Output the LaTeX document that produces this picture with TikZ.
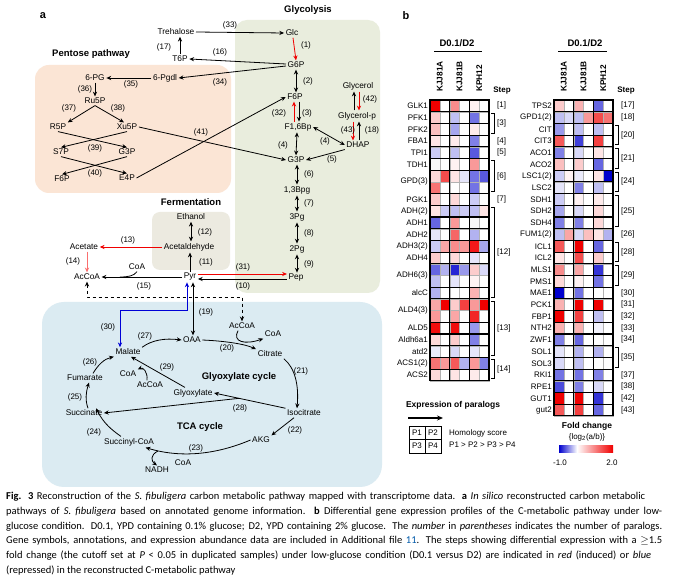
\documentclass[tikz,border=0pt]{standalone}
\usepackage{fontspec}
\setmainfont{Liberation Sans}
\newfontfamily\capfont{Carlito}
\usetikzlibrary{arrows.meta,calc}
\definecolor{glyc}{RGB}{233,237,221}
\definecolor{pent}{RGB}{251,229,213}
\definecolor{ferm}{RGB}{236,234,224}
\definecolor{tcac}{RGB}{219,235,242}
\definecolor{hr}{RGB}{240,0,0}
\definecolor{hb}{RGB}{0,0,205}
\definecolor{ared}{RGB}{240,0,0}
\definecolor{lred}{RGB}{250,110,110}
\definecolor{ablue}{RGB}{0,0,215}
\definecolor{linkblue}{RGB}{0,90,170}
\tikzset{
 met/.style={font=\fontsize{8.3}{9}\selectfont, inner sep=1.5pt},
 num/.style={font=\fontsize{8}{9}\selectfont, inner sep=0pt},
 ttl/.style={font=\fontsize{9.5}{11}\selectfont\bfseries, inner sep=0pt},
 ar/.style={-{Stealth[length=4.8pt,width=4.2pt]}, line width=0.8pt},
 dar/.style={{Stealth[length=4.8pt,width=4.2pt]}-{Stealth[length=4.8pt,width=4.2pt]}, line width=0.8pt},
 hml/.style={font=\fontsize{8}{9}\selectfont, inner sep=0pt, anchor=east},
 stp/.style={font=\fontsize{8}{9}\selectfont, inner sep=0pt, anchor=west},
 colh/.style={font=\fontsize{8.3}{9}\selectfont\bfseries, inner sep=0pt, rotate=90, anchor=west},
 capl/.style={font=\capfont\fontsize{10.5}{12}\selectfont, inner sep=0pt, anchor=west},
}
\newcommand\hmrow[8]{%
 \pgfmathsetmacro\hya{100+#2*11.7}\pgfmathsetmacro\hyb{\hya+11.7}%
 \foreach \c [count=\i from 0] in {#3,#4,#5,#6,#7,#8}{%
   \pgfmathsetmacro\hxa{#1+\i*9.8333}\pgfmathsetmacro\hxb{\hxa+9.8333}%
   \filldraw[fill=\c, draw=black!30, line width=0.3pt] (\hxa,\hya) rectangle (\hxb,\hyb);}}
\newcommand\hmblk[4]{%
 \pgfmathsetmacro\hya{100+#2*11.7}\pgfmathsetmacro\hyb{100+(#2+#3)*11.7}\pgfmathsetmacro\hym{(\hya+\hyb)/2}%
 \foreach \k in {0,1,2}{\pgfmathsetmacro\hxa{#1+\k*19.6667}\pgfmathsetmacro\hxb{\hxa+19.6667}%
   \draw[line width=1.1pt] (\hxa,\hya) rectangle (\hxb,\hyb);}%
 \node[hml] at (#1-2,\hym) {#4};}
\newcommand\hmstep[5]{%
 \pgfmathsetmacro\hya{100+#2*11.7}\pgfmathsetmacro\hyb{100+(#2+#3)*11.7}\pgfmathsetmacro\hym{(\hya+\hyb)/2}%
 \ifnum#5=1 \draw[line width=0.7pt] (#1+61,\hya+2) -- (#1+64,\hya+2) -- (#1+64,\hyb-2) -- (#1+61,\hyb-2);\fi
 \node[stp] at (#1+67,\hym) {#4};}
\begin{document}
\begin{tikzpicture}[x=1pt,y=-1pt]
\useasboundingbox (0,0) rectangle (673,577);
\fill[white] (0,0) rectangle (673,577);
% ---------- boxes
\fill[glyc, rounded corners=12pt] (235,20) rectangle (380,293);
\fill[pent, rounded corners=14pt] (35,65) rectangle (231,193);
\fill[ferm, rounded corners=8pt] (152,212) rectangle (230,270);
\fill[tcac, rounded corners=22pt] (42,302) rectangle (382,487);
% ---------- titles
\node[font=\fontsize{11}{12}\selectfont\bfseries] (la) at (43,16) {a};
\node[font=\fontsize{11}{12}\selectfont\bfseries] (lb) at (406,16) {b};
\node[ttl] (tglyc) at (308,10) {Glycolysis};
\node[ttl] (tpent) at (91,54) {Pentose pathway};
\node[ttl] (tferm) at (191,202) {Fermentation};
\node[ttl] (tglx) at (239,377) {Glyoxylate cycle};
\node[ttl] (ttca) at (200,427) {TCA cycle};
% ---------- metabolites
\node[met] (treh) at (176,32) {Trehalose};
\node[met] (glc) at (292,33) {Glc};
\node[met] (t6p) at (180,59) {T6P};
\node[met] (g6p) at (296,65) {G6P};
\node[met] (pgdl) at (165,78) {6-Pgdl};
\node[met] (pg) at (95,78) {6-PG};
\node[met] (ru5p) at (95,101) {Ru5P};
\node[met] (r5p) at (58,127) {R5P};
\node[met] (xu5p) at (127,127) {Xu5P};
\node[met] (s7p) at (61,152) {S7P};
\node[met] (g3pp) at (127,152) {G3P};
\node[met] (f6pp) at (62,179) {F6P};
\node[met] (e4p) at (127,178) {E4P};
\node[met] (f6p) at (295,97) {F6P};
\node[met] (f16) at (298,127) {F1,6Bp};
\node[met] (g3p) at (296,160) {G3P};
\node[met] (glyl) at (358,86) {Glycerol};
\node[met] (glyp) at (357,116) {Glycerol-p};
\node[met] (dhap) at (358,145) {DHAP};
\node[met] (bpg) at (297,190) {1,3Bpg};
\node[met] (pg3) at (297,217) {3Pg};
\node[met] (pg2) at (297,249) {2Pg};
\node[met] (pep) at (296,278) {Pep};
\node[met] (etoh) at (191,217) {Ethanol};
\node[met] (acald) at (189,247) {Acetaldehyde};
\node[met] (acet) at (84,247) {Acetate};
\node[met] (accoa) at (87,277) {AcCoA};
\node[met] (pyr) at (190,277) {Pyr};
\node[met] (coa1) at (137,267) {CoA};
\node[met] (oaa) at (192,340) {OAA};
\node[met] (mal) at (128,352) {Malate};
\node[met] (fum) at (85,378) {Fumarate};
\node[met] (suc) at (84,413) {Succinate};
\node[met] (succoa) at (129,442) {Succinyl-CoA};
\node[met] (akg) at (261,440) {AKG};
\node[met] (icit) at (304,413) {Isocitrate};
\node[met] (cit) at (270,354) {Citrate};
\node[met] (accoa2) at (242,326) {AcCoA};
\node[met] (coa2) at (273,334) {CoA};
\node[met] (glx) at (193,393) {Glyoxylate};
\node[met] (coa3) at (128,374) {CoA};
\node[met] (accoa3) at (150,385) {AcCoA};
\node[met] (coa4) at (183,463) {CoA};
\node[met] (nadh) at (157,470) {NADH};
% ---------- connectors: trehalose / pentose
\draw[ar] (treh.east) -- (glc.west);
\draw[ar] (t6p.north) -- (t6p.north |- treh.south);
\draw[ar] ([yshift=1pt]g6p.west) -- (t6p.east);
\draw[ar] ([yshift=-1pt]g6p.west) -- (pgdl.east);
\draw[ar] (pgdl.west) -- (pg.east);
\draw[ar] (pg.south) -- (pg.south |- ru5p.north);
\draw[ar] (ru5p.south) -- (r5p.north east);
\draw[ar] (ru5p.south) -- ([xshift=-3pt]xu5p.north);
\draw[ar] (r5p.south) -- (g3pp.north);
\draw[ar] (xu5p.south) -- (s7p.north);
\draw[ar] (s7p.south) -- (e4p.north);
\draw[ar] (g3pp.south) -- (f6pp.north);
\draw[ar] (xu5p.east) -- (g3p.west);
\draw[ar] (e4p.east) -- (f6p.west);
% ---------- glycolysis
\draw[ar, ared] ([xshift=1pt]glc.south) -- (g6p.north);
\draw[dar] (g6p.south) -- (g6p.south |- f6p.north);
\draw[ar, ared] ([xshift=-4pt]f16.north) -- ([xshift=-1pt]f6p.south);
\draw[ar] ([xshift=4pt]f6p.south) -- ([xshift=1pt]f16.north);
\draw[dar] ([xshift=-1pt]f16.south) -- (g3p.north);
\draw[dar] (f16.east) -- (dhap.west);
\draw[ar] (dhap.south west) -- (g3p.east);
\draw[ar] ([xshift=-3pt]glyp.north) -- ([xshift=-4pt]glyl.south);
\draw[ar, ared] ([xshift=1pt]glyl.south) -- ([xshift=2pt]glyp.north);
\draw[ar, ared] ([xshift=-4pt]glyp.south) -- ([xshift=-5pt]dhap.north);
\draw[ar] ([xshift=1pt]dhap.north) -- ([xshift=2pt]glyp.south);
\draw[dar] ([xshift=1pt]g3p.south) -- (bpg.north);
\draw[dar] (bpg.south) -- (pg3.north);
\draw[dar] (pg3.south) -- (pg2.north);
\draw[dar] (pg2.south) -- ([xshift=1pt]pep.north);
\draw[ar, ared] ([yshift=3pt]pyr.east) -- ([yshift=4pt]pep.west);
\draw[ar] ([yshift=-1pt]pep.west) -- ([yshift=-2pt]pyr.east);
% ---------- fermentation
\draw[dar] (etoh.south) -- (etoh.south |- acald.north);
\draw[ar] (pyr.north) -- (pyr.north |- acald.south);
\draw[ar, ared] (acald.west) -- (acet.east);
\draw[ar, lred] ([xshift=3pt]acet.south) -- ([xshift=3pt]acet.south |- accoa.north);
\draw[ar] (pyr.west) -- (accoa.east);
\draw[line width=0.8pt] (coa1.south) .. controls (134,276) and (128,277) .. (120,277);
\coordinate (d1) at (87,297);
\coordinate (d2) at (242,297);
\draw[dar, dashed] (accoa.south) -- (d1) -- (d2) -- (accoa2.north);
% ---------- TCA / glyoxylate
\coordinate (b1) at (187,310);
\coordinate (b2) at (120,310);
\draw[dar, ablue] ([xshift=-3pt]pyr.south) -- (b1) -- (b2) -- ([xshift=-8pt]mal.north);
\draw[dar] ([xshift=3pt]pyr.south) -- ([xshift=1pt]oaa.north);
\draw[ar] (mal.north east) .. controls (152,340) and (165,338) .. (oaa.west);
\draw[ar] (oaa.east) .. controls (225,341) and (245,344) .. (cit.north west);
\draw[ar] ([xshift=-4pt]accoa2.south) .. controls (232,342) and (245,345) .. (coa2.south west);
\draw[ar] (cit.south east) .. controls (295,368) and (299,385) .. ([xshift=-7pt]icit.north);
\draw[ar] ([xshift=-10pt]icit.south) -- (akg.north east);
\draw[ar] (akg.west) .. controls (215,455) and (180,458) .. ([xshift=-10pt]succoa.south east);
\draw[ar] ([xshift=-8pt]succoa.north) .. controls (112,430) and (104,424) .. ([xshift=12pt]suc.north);
\draw[ar] ([xshift=4pt]suc.north) .. controls (85,400) and (86,392) .. ([xshift=4pt]fum.south);
\draw[ar] ([xshift=8pt]fum.north) .. controls (98,365) and (104,359) .. (mal.south west);
\draw[ar] (icit.north west) -- (glx.east);
\coordinate (br) at ($(icit.north west)!0.65!(glx.east)$);
\draw[ar] (br) -- (suc.east);
\draw[ar] ([xshift=-8pt]glx.north) -- ([xshift=3pt]mal.south);
\draw[ar] ([xshift=-3pt]accoa3.north) .. controls (148,372) and (143,367) .. (coa3.north east);
\coordinate (nh) at (158,451);
\draw[ar] (nh) .. controls (150,455) and (151,461) .. (nadh.north);
% ---------- step numbers
\foreach \p/\t in {{230,25}/(33),{164,47}/(17),{220,52}/(16),{220,82}/(34),{131,84}/(35),{85,89}/(36),{69,108}/(37),{118,108}/(38),{95,148}/(39),{95,173}/(40),{201,132}/(41),{306,45}/(1),{308,81}/(2),{279,113}/(32),{307,113}/(3),{283,145}/(4),{325,141}/(4),{332,159}/(5),{370,99}/(42),{348,130}/(43),{372,130}/(18),{309,174}/(6),{309,203}/(7),{309,233}/(8),{309,264}/(9),{243,267}/(31),{243,286}/(10),{205,232}/(12),{206,262}/(11),{128,240}/(13),{73,261}/(14),{144,286}/(15),{206,312}/(19),{108,327}/(30),{145,336}/(27),{227,348}/(20),{301,371}/(21),{295,430}/(22),{196,448}/(23),{94,432}/(24),{75,397}/(25),{90,362}/(26),{240,408}/(28),{167,367}/(29)}
  \node[num] at (\p) {\t};
% ---------- heatmap headers
\foreach \x/\u/\v in {457/434/482, 585/558/607}{
  \node[font=\fontsize{9.5}{11}\selectfont\bfseries] at (\x,43) {D0.1/D2};
  \draw[line width=1pt] (\u,52) -- (\v,52);}
\foreach \x in {430,554}{
  \node[colh] at (\x+9.83,92) {KJJ81A};
  \node[colh] at (\x+29.5,92) {KJJ81B};
  \node[colh] at (\x+49.17,92) {KPH12};
  \node[font=\fontsize{8}{9}\selectfont\bfseries] at (\x+72,91) {Step};}
% ---------- left heatmap cells
\hmrow{430}{0}{hr!100}{white}{hr!45}{white}{hr!6}{white}
\hmrow{430}{1}{hr!20}{white}{hb!25}{white}{hb!55}{white}
\hmrow{430}{2}{hr!25}{white}{hb!35}{white}{hr!8}{white}
\hmrow{430}{3}{hr!10}{white}{hr!8}{white}{hb!50}{white}
\hmrow{430}{4}{hb!20}{white}{hb!25}{white}{hb!65}{white}
\hmrow{430}{5}{black!3}{white}{hr!5}{white}{hr!40}{white}
\hmrow{430}{6}{hr!15}{hr!70}{hr!10}{hb!10}{hb!55}{hb!65}
\hmrow{430}{7}{hr!55}{white}{white}{white}{hb!55}{white}
\hmrow{430}{8}{hr!20}{white}{hr!15}{white}{hb!20}{white}
\hmrow{430}{9}{hr!10}{hb!20}{hb!25}{hb!20}{hb!25}{hr!10}
\hmrow{430}{10}{hb!60}{white}{hr!40}{white}{black!3}{white}
\hmrow{430}{11}{hb!10}{white}{hr!60}{white}{hb!30}{white}
\hmrow{430}{12}{hb!20}{hr!35}{hr!45}{hr!40}{hr!90}{hb!35}
\hmrow{430}{13}{hr!20}{white}{hr!15}{white}{hb!10}{white}
\hmrow{430}{14}{hb!60}{hb!30}{hb!85}{hb!40}{hr!20}{hb!15}
\hmrow{430}{15}{hb!25}{white}{hb!10}{white}{hr!5}{white}
\hmrow{430}{16}{hb!30}{white}{white}{white}{hr!30}{white}
\hmrow{430}{17}{hr!35}{hr!100}{hr!20}{hr!75}{hr!40}{hr!100}
\hmrow{430}{18}{hr!40}{white}{hr!35}{white}{hr!85}{white}
\hmrow{430}{19}{hr!95}{white}{hr!95}{white}{hb!40}{white}
\hmrow{430}{20}{hr!15}{white}{hr!20}{white}{hb!50}{white}
\hmrow{430}{21}{hb!8}{white}{hb!15}{white}{hb!10}{white}
\hmrow{430}{22}{hr!55}{hr!40}{hr!65}{hb!30}{hr!40}{hb!50}
\hmrow{430}{23}{hr!15}{white}{hr!10}{white}{hr!8}{white}
\hmblk{430}{0}{1}{GLK1}
\hmblk{430}{1}{1}{PFK1}
\hmblk{430}{2}{1}{PFK2}
\hmblk{430}{3}{1}{FBA1}
\hmblk{430}{4}{1}{TPI1}
\hmblk{430}{5}{1}{TDH1}
\hmblk{430}{6}{2}{GPD(3)}
\hmblk{430}{8}{1}{PGK1}
\hmblk{430}{9}{1}{ADH(2)}
\hmblk{430}{10}{1}{ADH1}
\hmblk{430}{11}{1}{ADH2}
\hmblk{430}{12}{1}{ADH3(2)}
\hmblk{430}{13}{1}{ADH4}
\hmblk{430}{14}{2}{ADH6(3)}
\hmblk{430}{16}{1}{alcC}
\hmblk{430}{17}{2}{ALD4(3)}
\hmblk{430}{19}{1}{ALD5}
\hmblk{430}{20}{1}{Aldh6a1}
\hmblk{430}{21}{1}{atd2}
\hmblk{430}{22}{1}{ACS1(2)}
\hmblk{430}{23}{1}{ACS2}
\hmstep{430}{0}{1}{[1]}{0}
\hmstep{430}{1}{2}{[3]}{1}
\hmstep{430}{3}{1}{[4]}{0}
\hmstep{430}{4}{1}{[5]}{0}
\hmstep{430}{5}{3}{[6]}{1}
\hmstep{430}{8}{1}{[7]}{0}
\hmstep{430}{9}{8}{[12]}{1}
\hmstep{430}{17}{5}{[13]}{1}
\hmstep{430}{22}{2}{[14]}{1}
% ---------- right heatmap cells
\hmrow{554}{0}{hr!20}{white}{hr!30}{white}{hb!60}{white}
\hmrow{554}{1}{hb!25}{hb!15}{hb!25}{hr!40}{hr!70}{hr!55}
\hmrow{554}{2}{hb!40}{white}{hb!25}{white}{hb!25}{white}
\hmrow{554}{3}{hr!65}{white}{hb!75}{white}{hr!75}{white}
\hmrow{554}{4}{hb!50}{white}{hb!15}{white}{hr!10}{white}
\hmrow{554}{5}{hr!25}{white}{hr!20}{white}{hb!60}{white}
\hmrow{554}{6}{hb!20}{hr!5}{hb!8}{white}{hr!10}{hb!100}
\hmrow{554}{7}{hb!10}{white}{hb!50}{white}{hb!25}{white}
\hmrow{554}{8}{hb!20}{white}{hr!5}{white}{hr!8}{white}
\hmrow{554}{9}{hb!35}{white}{hb!15}{white}{hr!15}{white}
\hmrow{554}{10}{hb!50}{white}{hb!50}{white}{hr!15}{white}
\hmrow{554}{11}{hb!25}{hr!35}{hb!15}{hr!25}{hr!10}{hb!30}
\hmrow{554}{12}{hr!65}{white}{hr!100}{white}{hb!60}{white}
\hmrow{554}{13}{hr!10}{white}{hr!70}{white}{hr!20}{white}
\hmrow{554}{14}{hr!45}{white}{hr!35}{white}{hb!80}{white}
\hmrow{554}{15}{hr!15}{white}{hr!5}{white}{hb!55}{white}
\hmrow{554}{16}{hb!100}{white}{hb!55}{white}{white}{white}
\hmrow{554}{17}{hr!30}{white}{hr!100}{white}{hr!100}{white}
\hmrow{554}{18}{hr!100}{white}{hr!75}{white}{hb!25}{white}
\hmrow{554}{19}{hr!30}{white}{hr!30}{white}{hb!5}{white}
\hmrow{554}{20}{hb!50}{white}{hb!60}{white}{white}{white}
\hmrow{554}{21}{hb!10}{white}{hb!30}{white}{hb!30}{white}
\hmrow{554}{22}{hb!15}{white}{hb!25}{white}{white}{white}
\hmrow{554}{23}{hb!55}{white}{hb!55}{white}{hb!50}{white}
\hmrow{554}{24}{hb!70}{white}{hb!50}{white}{hb!15}{white}
\hmrow{554}{25}{hr!100}{white}{hr!100}{white}{hb!80}{white}
\hmrow{554}{26}{hr!65}{white}{hr!75}{white}{hb!60}{white}
\foreach \r/\l in {0/TPS2,1/GPD1(2),2/CIT,3/CIT3,4/ACO1,5/ACO2,6/LSC1(2),7/LSC2,8/SDH1,9/SDH2,10/SDH4,11/FUM1(2),12/ICL1,13/ICL2,14/MLS1,15/PMS1,16/MAE1,17/PCK1,18/FBP1,19/NTH2,20/ZWF1,21/SOL1,22/SOL3,23/RKI1,24/RPE1,25/GUT1,26/gut2}
  {\hmblk{554}{\r}{1}{\l}}
\hmstep{554}{0}{1}{[17]}{0}
\hmstep{554}{1}{1}{[18]}{0}
\hmstep{554}{2}{2}{[20]}{1}
\hmstep{554}{4}{2}{[21]}{1}
\hmstep{554}{6}{2}{[24]}{1}
\hmstep{554}{8}{3}{[25]}{1}
\hmstep{554}{11}{1}{[26]}{0}
\hmstep{554}{12}{2}{[28]}{1}
\hmstep{554}{14}{2}{[29]}{1}
\hmstep{554}{16}{1}{[30]}{0}
\hmstep{554}{17}{1}{[31]}{0}
\hmstep{554}{18}{1}{[32]}{0}
\hmstep{554}{19}{1}{[33]}{0}
\hmstep{554}{20}{1}{[34]}{0}
\hmstep{554}{21}{2}{[35]}{1}
\hmstep{554}{23}{1}{[37]}{0}
\hmstep{554}{24}{1}{[38]}{0}
\hmstep{554}{25}{1}{[42]}{0}
\hmstep{554}{26}{1}{[43]}{0}
% ---------- legends
\node[font=\fontsize{8.5}{10}\selectfont\bfseries] (exl) at (453,405) {Expression of paralogs};
\coordinate (ea) at (408,418);
\coordinate (eb) at (443,418);
\draw[-{Stealth[length=6pt,width=5pt]}, line width=1.2pt] (ea) -- (eb);
\draw[line width=0.8pt] (409,426) rectangle (441,453) (425,426) -- (425,453) (409,439.5) -- (441,439.5);
\foreach \p/\t in {{417,433}/P1,{433,433}/P2,{417,446}/P3,{433,446}/P4}
  \node[font=\fontsize{8}{9}\selectfont, inner sep=0pt] at (\p) {\t};
\node[stp] (hs1) at (449,433) {Homology score};
\node[stp] (hs2) at (449,445) {P1 > P2 > P3 > P4};
\node[font=\fontsize{8.5}{10}\selectfont\bfseries] (fcl) at (587,426) {Fold change};
\node[font=\fontsize{8}{9}\selectfont] (fcf) at (587,437) {\{log\textsubscript{2}(a/b)\}};
\shade[left color=hb, right color=white] (559,446) rectangle (577,453);
\shade[left color=white, right color=hr] (577,446) rectangle (613,453);
\node[font=\fontsize{8}{9}\selectfont] (fm) at (560,463) {-1.0};
\node[font=\fontsize{8}{9}\selectfont] (fp) at (612,463) {2.0};
% ---------- caption
\node[capl] (c1) at (6,497) {\makebox[639pt][s]{\textbf{Fig. 3} Reconstruction of the \textit{S. fibuligera} carbon metabolic pathway mapped with transcriptome data. \textbf{a} \textit{In silico} reconstructed carbon metabolic}};
\node[capl] (c2) at (6,512) {\makebox[656pt][s]{pathways of \textit{S. fibuligera} based on annotated genome information. \textbf{b} Differential gene expression profiles of the C-metabolic pathway under low-}};
\node[capl] (c3) at (6,527) {\makebox[656pt][s]{glucose condition. D0.1, YPD containing 0.1\% glucose; D2, YPD containing 2\% glucose. The \textit{number} in \textit{parentheses} indicates the number of paralogs.}};
\node[capl] (c4) at (6,541) {\makebox[656pt][s]{Gene symbols, annotations, and expression abundance data are included in Additional file \textcolor{linkblue}{11}. The steps showing differential expression with a $\geq$1.5}};
\node[capl] (c5) at (6,556) {\makebox[645pt][s]{fold change (the cutoff set at \textit{P} < 0.05 in duplicated samples) under low-glucose condition (D0.1 versus D2) are indicated in \textit{red} (induced) or \textit{blue}}};
\node[capl] (c6) at (6,571) {(repressed) in the reconstructed C-metabolic pathway};
\end{tikzpicture}
\end{document}
